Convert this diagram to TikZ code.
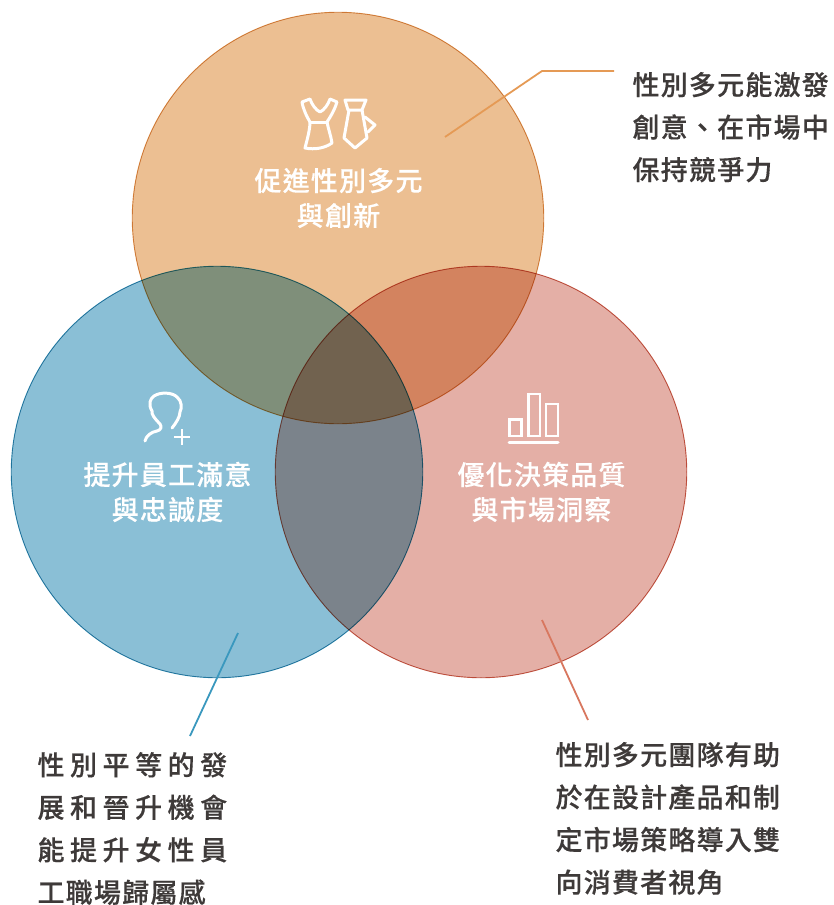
\documentclass[tikz,border=0pt]{standalone}
\usepackage{fontspec}
\setmainfont{Noto Sans CJK TC}
\newfontfamily\inlabelfont[LetterSpace=4.5,FakeBold=0.25]{Noto Sans CJK TC Medium}
\newfontfamily\outlabelfont[LetterSpace=4.5,FakeBold=0.35]{Noto Sans CJK TC Medium}
\newfontfamily\widelabelfont[LetterSpace=20.5,FakeBold=0.35]{Noto Sans CJK TC Medium}
\definecolor{topfill}{HTML}{ECBF92}
\definecolor{topline}{HTML}{D98F4A}
\definecolor{toplead}{HTML}{E59A55}
\definecolor{leftfill}{HTML}{8ABFD6}
\definecolor{leftline}{HTML}{2F8AAE}
\definecolor{leftlead}{HTML}{3A98BE}
\definecolor{rightfill}{HTML}{E4AFA6}
\definecolor{rightline}{HTML}{C9604C}
\definecolor{rightlead}{HTML}{D8775F}
\definecolor{textgray}{HTML}{3E3A39}
\tikzset{
  disc/.style={circle,minimum size=411.5pt,inner sep=0pt,line width=0.9pt},
  inlabel/.style={text=white,align=center,font=\inlabelfont\fontsize{27}{35}\selectfont},
  outlabel/.style={text=textgray,align=left,font=\outlabelfont\fontsize{27}{42.5}\selectfont},
  icon/.style={draw=white,line width=3pt,line cap=round,line join=round},
  lead/.style={line width=1.8pt}
}
\begin{document}
\begin{tikzpicture}[x=1pt,y=-1pt]
  \useasboundingbox (0,0) rectangle (834,905);
  \begin{scope}[blend group=multiply]
    \node[disc,draw=topline,fill=topfill] (top) at (338,218) {};
    \node[disc,draw=leftline,fill=leftfill] (left) at (217,472) {};
    \node[disc,draw=rightline,fill=rightfill] (right) at (481,472) {};
  \end{scope}
  % circle labels
  \node[inlabel] (toplabel) at (338.5,198) {促進性別多元\\與創新};
  \node[inlabel] (leftlabel) at (167.5,492) {提升員工滿意\\與忠誠度};
  \node[inlabel] (rightlabel) at (541.5,492) {優化決策品質\\與市場洞察};
  % side texts
  \node[outlabel,anchor=north west] (toptext) at (629,68.5) {性別多元能激發\\創意、在市場中\\保持競爭力};
  \node[outlabel,anchor=north west] (lefttext) at (34,748.5) {{\widelabelfont 性別平等的發}\\{\widelabelfont 展和晉升機會}\\{\widelabelfont 能提升女性員}\\工職場歸屬感};
  \node[outlabel,anchor=north west] (righttext) at (552,738.5) {性別多元團隊有助\\於在設計產品和制\\定市場策略導入雙\\向消費者視角};
  % leaders
  \coordinate (topa) at (445,137);
  \coordinate (topb) at (542,71);
  \coordinate (topc) at (614,71);
  \coordinate (lefta) at (238,633);
  \coordinate (leftb) at (190,736);
  \coordinate (righta) at (542,620);
  \coordinate (rightb) at (588,720);
  \draw[lead,draw=toplead] (topa) -- (topb) -- (topc);
  \draw[lead,draw=leftlead] (lefta) -- (leftb);
  \draw[lead,draw=rightlead] (righta) -- (rightb);
  % dress and tie
  \draw[icon] (310,99) -- (302,102) .. controls (303,109) and (307,117) .. (310,122)
    .. controls (310,130) and (307,140) .. (305,148)
    .. controls (315,150) and (325,148) .. (332,143)
    .. controls (331,136) and (328,128) .. (327,122)
    .. controls (331,116) and (335,109) .. (337,102) -- (330,99)
    .. controls (328,105) and (324,110) .. (320,112)
    .. controls (316,110) and (312,105) .. (310,99) -- cycle;
  \draw[icon] (310,122) -- (327,122);
  \draw[icon] (345,100) -- (366,100) -- (362,110) -- (348,110) -- cycle;
  \draw[icon] (349,110) -- (344,138) -- (355,148) -- (367,138) -- (362,110);
  \draw[icon] (365,117) -- (375,125) -- (368,132);
  % person
  \draw[icon] (145,441) .. controls (146,436) and (151,432) .. (157,431)
    .. controls (161,430) and (162,427) .. (160,424)
    .. controls (155,419) and (151,414) .. (152,411)
    .. controls (148,404) and (150,399) .. (154,396)
    .. controls (160,392) and (172,392) .. (177,397)
    .. controls (182,401) and (182,408) .. (180,412)
    .. controls (180,417) and (176,423) .. (172,428);
  \draw[icon,line width=2pt,line cap=butt] (174,437) -- (190,437) (182,429) -- (182,445);
  % bars
  \draw[icon,line width=2.2pt,line cap=butt,line join=miter] (509.5,419.5) rectangle (521.5,436);
  \draw[icon,line width=2.2pt,line cap=butt,line join=miter] (528.5,394) rectangle (540,436);
  \draw[icon,line width=2.2pt,line cap=butt,line join=miter] (546,404) rectangle (558,436);
  \draw[icon,line width=3pt] (509,442) -- (558,442);
\end{tikzpicture}
\end{document}
